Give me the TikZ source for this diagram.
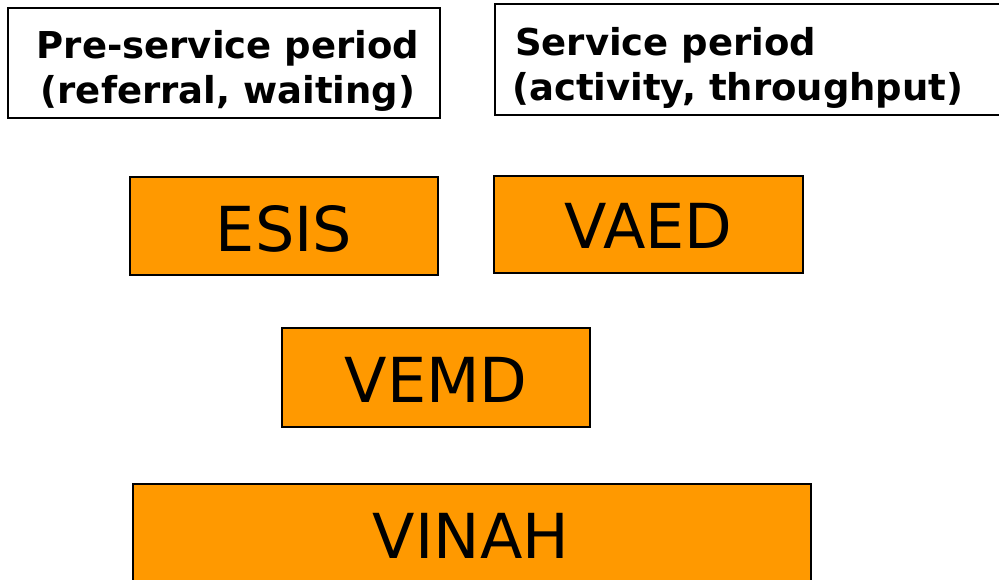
\documentclass[tikz,border=0pt]{standalone}
\usepackage{fontspec}
\setmainfont{DejaVu Sans}
\definecolor{boxorange}{HTML}{FF9900}
\begin{document}
\begin{tikzpicture}[x=1pt,y=-1pt,
  whitebox/.style={draw=black,line width=1.6pt,fill=white,rectangle,inner sep=0pt},
  orangebox/.style={draw=black,line width=1.4pt,fill=boxorange,rectangle,inner sep=0pt},
  headtext/.style={font=\fontsize{37}{45}\selectfont\bfseries,inner sep=0pt},
  bigtext/.style={font=\fontsize{62}{70}\selectfont,inner sep=0pt,anchor=base}]
\useasboundingbox (0,0) rectangle (999,579);
\clip (0,0) rectangle (999,579);
% header boxes
\node[whitebox,minimum width=432pt,minimum height=110pt] (pre) at (224,63) {};
\node[whitebox,minimum width=520pt,minimum height=111pt] (serv) at (755,59.5) {};
\node[headtext,anchor=base] (pre1) at (228,58) {Pre-service period};
\node[headtext,anchor=base] (pre2) at (228,103) {(referral, waiting)};
\node[headtext,anchor=base west] (serv1) at (515,55) {Service period};
\node[headtext,anchor=base west] (serv2) at (512,100) {(activity, throughput)};
% orange boxes
\node[orangebox,minimum width=308pt,minimum height=98pt] (esis) at (284,226) {};
\node[orangebox,minimum width=309pt,minimum height=97pt] (vaed) at (648.5,224.5) {};
\node[orangebox,minimum width=308pt,minimum height=99pt] (vemd) at (436,377.5) {};
\node[orangebox,minimum width=678pt,minimum height=98pt] (vinah) at (472,533) {};
\node[bigtext] (esist) at (284,251) {ESIS};
\node[bigtext] (vaedt) at (648.5,248) {VAED};
\node[bigtext] (vemdt) at (436,402) {VEMD};
\node[bigtext] (vinaht) at (471,558) {VINAH};
\end{tikzpicture}
\end{document}
